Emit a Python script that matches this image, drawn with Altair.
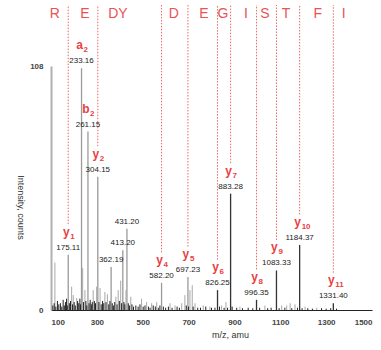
import altair as alt
import pandas as pd

# Labeled peaks (m/z, intensity counts)
peak_mz = [175.11, 233.16, 261.15, 304.15, 362.19, 413.20, 431.20, 582.20, 697.23,
           826.25, 883.28, 996.35, 1083.33, 1184.37, 1331.40]
peak_int = [24.5, 107, 79, 59, 19, 26.5, 36, 12, 14.6, 8.8, 51.5, 4.5, 17.5, 28.8, 3]
peak_lbl = ["175.11", "233.16", "261.15", "304.15", "362.19", "413.20", "431.20", "582.20",
            "697.23", "826.25", "883.28", "996.35", "1083.33", "1184.37", "1331.40"]

# Fragment ion assignments
ion_mz = [175.11, 233.16, 261.15, 304.15, 582.20, 697.23, 826.25, 883.28, 996.35,
          1083.33, 1184.37, 1331.40]
ion_int = [24.5, 107, 79, 59, 12, 14.6, 8.8, 51.5, 4.5, 17.5, 28.8, 3]
ion_base = ["y", "a", "b", "y", "y", "y", "y", "y", "y", "y", "y", "y"]
ion_sub = ["1", "2", "2", "2", "4", "5", "6", "7", "8", "9", "10", "11"]
ion_line = [True, False, False, True, True, True, True, True, True, True, True, True]

# Minor unlabeled peaks
minor_mz = [117, 190, 197, 212, 238, 248, 284, 299, 314, 335, 346, 383, 393, 404, 427, 448,
            495, 517, 539, 561, 619, 641, 670, 684, 706, 716, 728, 764, 793, 844, 863, 924,
            1033, 1106, 1128, 1143, 1164, 1208, 1259]
minor_int = [21, 10.3, 6.6, 5.3, 18.6, 8.8, 8.8, 10.3, 9.7, 8, 7, 5.9, 8.8, 13, 8.8, 5.9,
             5, 3.5, 3, 3.5, 3, 2, 3, 6.6, 8.8, 11, 3, 2, 1.5, 2, 3.5, 1.5,
             2, 2, 2, 3, 2.5, 1.5, 1]

# Baseline noise
noise_mz = [108, 114, 121, 128, 134, 141, 147, 153, 158, 163, 168, 171, 180, 185, 194, 201,
            206, 216, 221, 226, 229, 242, 252, 256, 266, 271, 276, 280, 289, 294, 309, 319,
            325, 330, 340, 352, 357, 367, 372, 378, 388, 398, 408, 418, 422, 437, 442, 453,
            460, 470, 480, 488, 502, 510, 525, 532, 546, 555, 568, 575, 590, 600, 612, 628,
            650, 660, 690, 700, 720, 740, 752, 775, 800, 815, 835, 855, 870, 890, 910, 935,
            960, 980, 1010, 1045, 1060, 1095, 1120, 1150, 1175, 1195, 1220, 1240, 1280, 1300,
            1320, 1345]
noise_int = [2, 3, 1.5, 4, 2.5, 3, 1.5, 4.5, 2, 3.5, 5, 2, 3, 4, 2.5, 3.5,
             2, 4, 3, 5, 2.5, 3.5, 4, 2, 3, 4.5, 2.5, 3.5, 4, 3, 3.5, 2.5,
             4, 3, 3.5, 2.5, 4, 3, 2, 3.5, 2.5, 4, 3, 3.5, 2.5, 3, 2, 2.5,
             1.5, 2, 1.5, 2.5, 1.5, 2, 1.5, 1, 2, 1.5, 1, 2, 1.5, 1, 1.5, 1,
             1.5, 1, 2, 1.5, 1.5, 1, 1, 1.5, 1, 1, 1.5, 1, 1, 1.5, 1, 0.8,
             1, 0.8, 1, 0.8, 1, 0.8, 1, 0.8, 1, 0.8, 0.8, 0.6, 0.8, 0.6,
             0.8, 0.6]

# Sequence residues across the top
res_letter = ["R", "E", "DY", "D", "E", "G", "I", "S", "T", "F", "I"]
res_mz = [117, 248, 392, 636, 767, 850, 950, 1033, 1125, 1264, 1377]

RED = "#e8413f"
FONT = "Liberation Sans"

peaks = pd.DataFrame({"mz": peak_mz, "int": peak_int, "lbl": peak_lbl})
ions = pd.DataFrame({"mz": ion_mz, "int": ion_int, "base": ion_base, "sub": ion_sub,
                     "line": ion_line})
minor = pd.DataFrame({"mz": minor_mz, "int": minor_int})
noise = pd.DataFrame({"mz": noise_mz, "int": noise_int})
res = pd.DataFrame({"mz": res_mz, "letter": res_letter})

xs = alt.Scale(domain=[100, 1500], nice=False)
ys = alt.Scale(domain=[0, 108], nice=False)

x_axis = alt.Axis(values=[100, 300, 500, 700, 900, 1100, 1300, 1500], format="d", ticks=False,
                  labelPadding=8, labelFontSize=8, labelFontWeight="bold", labelColor="#444",
                  domainColor="#222", domainWidth=1, grid=False, title="m/z, amu",
                  titleFontSize=9, titleFontWeight="normal", titleColor="#333",
                  titleX=179, titlePadding=4, titleFont=FONT, labelFont=FONT)
y_axis = alt.Axis(values=[0, 108], format="d", ticks=False, labelPadding=8, labelFontSize=8,
                  labelFontWeight="bold", labelColor="#444", domainColor="#b0b0b0",
                  domainWidth=2, grid=False, title="Intensity, counts", titleAngle=90,
                  titleFontSize=9, titleFontWeight="normal", titleColor="#333",
                  titleX=-36, titleY=141, titleFont=FONT, labelFont=FONT)

base_x = alt.X("mz:Q", scale=xs, axis=x_axis)
base_y = alt.Y("int:Q", scale=ys, axis=y_axis)

noise_layer = alt.Chart(noise).mark_rule(color="#222", strokeWidth=1).encode(
    x=alt.X("mz:Q", scale=xs), y=alt.Y("int:Q", scale=ys), y2=alt.datum(0))

minor_layer = alt.Chart(minor).mark_rule(color="#a8a8a8", strokeWidth=1).encode(
    x=alt.X("mz:Q", scale=xs), y=alt.Y("int:Q", scale=ys), y2=alt.datum(0))

peak_layer = alt.Chart(peaks).mark_rule(strokeWidth=1.3).encode(
    x=base_x, y=base_y, y2=alt.datum(0),
    color=alt.condition(alt.datum.mz > 800, alt.value("#333"), alt.value("#9a9a9a")))

dotted = alt.Chart(ions).transform_filter(alt.datum.line).transform_calculate(
    end="datum.int + 13.5").mark_rule(color=RED, strokeWidth=1, strokeDash=[1.5, 1.5],
                                      opacity=0.8).encode(
    x=alt.X("mz:Q", scale=xs), y=alt.Y("end:Q", scale=ys), y2=alt.datum(135))

mass_text = alt.Chart(peaks).mark_text(fontSize=8, color="#222", dy=-7, font=FONT).encode(
    x=alt.X("mz:Q", scale=xs), y=alt.Y("int:Q", scale=ys), text="lbl:N")

ion_text = alt.Chart(ions).mark_text(fontSize=12, fontWeight="bold", color=RED, dy=-23,
                                     dx=-2, align="center", font=FONT).encode(
    x=alt.X("mz:Q", scale=xs), y=alt.Y("int:Q", scale=ys), text="base:N")

ion_sub_text = alt.Chart(ions).mark_text(fontSize=8, fontWeight="bold", color=RED, dy=-18,
                                         dx=2, align="left", font=FONT).encode(
    x=alt.X("mz:Q", scale=xs), y=alt.Y("int:Q", scale=ys), text="sub:N")

res_text = alt.Chart(res).mark_text(fontSize=14, color=RED, font=FONT, opacity=0.9).encode(
    x=alt.X("mz:Q", scale=xs), y=alt.datum(131), text="letter:N")

chart = alt.layer(peak_layer, minor_layer, noise_layer, dotted, mass_text, ion_text,
                  ion_sub_text, res_text).properties(
    width=321, height=244,
    autosize=alt.AutoSizeParams(type="none"),
    padding={"left": 51, "top": 66, "right": 9, "bottom": 40},
    background="white",
).configure_view(stroke=None)

chart.save("out.html", embed_options={"renderer": "svg", "actions": False})
